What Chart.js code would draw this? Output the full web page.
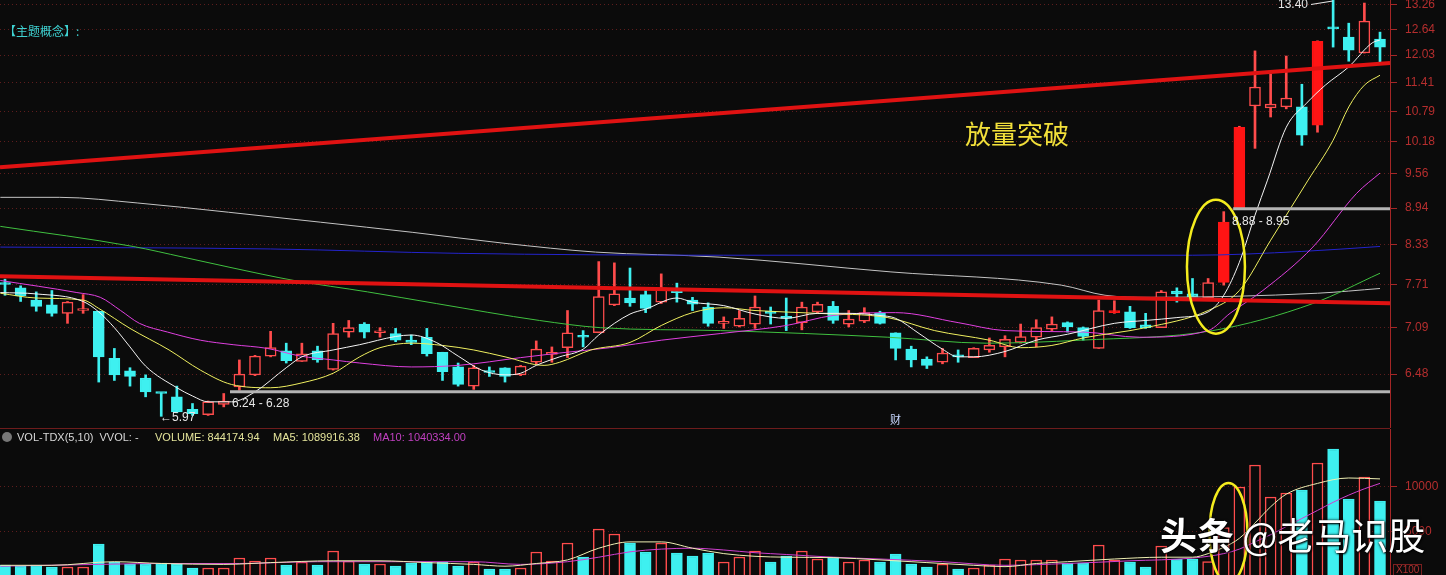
<!DOCTYPE html>
<html>
<head>
<meta charset="utf-8">
<script src="https://cdn.jsdelivr.net/npm/chart.js@4.4.0/dist/chart.umd.min.js"></script>
<style>
  html, body { margin: 0; padding: 0; background: #0b0b0b; overflow: hidden; }
  #wrap { position: relative; width: 1446px; height: 575px; overflow: hidden; background: #0b0b0b; }
  #price { position: absolute; left: 0; top: 0; }
  #vol { position: absolute; left: 0; top: 429px; }
  .t { position: absolute; white-space: nowrap; line-height: 1; font-family: "Liberation Sans", Arial, sans-serif; }
  .cjk { font-family: "Noto Sans CJK SC", sans-serif; }
  #divider { position: absolute; left: 0; top: 428px; width: 1390px; height: 1px; background: #6e1c1c; }
</style>
</head>
<body>
<div id="wrap">
  <canvas id="price" width="1446" height="428"></canvas>
  <canvas id="vol" width="1446" height="148"></canvas>
  <div id="divider"></div>

  <div class="t cjk" style="left:4px;top:25px;font-size:12px;color:#3fd2d2;">【主题概念】:</div>
  <div class="t cjk" style="left:965px;top:120px;font-size:26px;color:#f2e03a;">放量突破</div>
  <div class="t" style="left:232px;top:397px;font-size:12px;color:#e6e6e6;">6.24 - 6.28</div>
  <div class="t" style="left:1232px;top:215px;font-size:12px;color:#e6e6e6;">8.88 - 8.95</div>
  <div class="t" style="left:160px;top:411px;font-size:12px;color:#e6e6e6;">←5.97</div>
  <div class="t" style="left:1278px;top:-2px;font-size:12px;color:#e6e6e6;">13.40</div>
  <div style="position:absolute;left:1311px;top:4px;width:22px;height:1px;background:#e6e6e6;transform:rotate(-9deg);transform-origin:left center;"></div>
  <div class="t cjk" style="left:890px;top:414px;font-size:11px;color:#c8d8ff;">财</div>

  <div style="position:absolute;left:2px;top:432px;width:10px;height:10px;border-radius:50%;background:#777;"></div>
  <div class="t" style="left:17px;top:432px;font-size:11px;color:#d8d8d8;">VOL-TDX(5,10) &nbsp;VVOL: -</div>
  <div class="t" style="left:155px;top:432px;font-size:11px;color:#e4e49a;">VOLUME: 844174.94</div>
  <div class="t" style="left:273px;top:432px;font-size:11px;color:#e4e49a;">MA5: 1089916.38</div>
  <div class="t" style="left:373px;top:432px;font-size:11px;color:#c040c0;">MA10: 1040334.00</div>

  <div class="t" style="left:1393px;top:564px;font-size:10px;color:#b03030;border:1px solid #7a2020;padding:0 2px;">X100</div>
  <div class="t cjk" style="left:1160px;top:516px;font-size:37px;color:#ffffff;text-shadow:0 0 3px #000,1px 1px 2px #000;"><b>头条</b> @老马识股</div>
</div>

<script>
// candles (index 0 = leftmost)
const OPEN  = [7.73,7.66,7.48,7.41,7.29,7.33,7.32,6.68,6.52,6.43,
               6.25,6.20,6.05,5.99,6.11,6.32,6.47,6.71,6.78,6.64,
               6.78,6.54,7.03,7.14,7.02,7.01,6.92,6.96,6.76,6.57,
               6.33,6.52,6.56,6.47,6.63,6.73,6.82,6.98,7.02,7.41,
               7.51,7.56,7.45,7.61,7.48,7.38,7.15,7.11,7.14,7.31,
               7.24,7.16,7.31,7.39,7.14,7.18,7.29,7.02,6.80,6.67,
               6.63,6.72,6.69,6.79,6.83,6.89,6.96,7.07,7.16,7.09,
               6.81,7.30,7.31,7.13,7.09,7.61,7.57,7.51,7.74,8.95,
               10.90,10.86,10.88,10.88,10.50,12.70,12.46,12.08,12.41];
const HIGH  = [7.79,7.69,7.60,7.62,7.46,7.56,7.32,6.81,6.56,6.47,
               6.25,6.33,6.12,6.15,6.24,6.66,6.72,7.04,6.88,6.88,
               6.84,7.15,7.19,7.16,7.09,7.08,6.99,7.08,6.76,6.62,
               6.59,6.57,6.56,6.59,6.91,6.83,7.33,7.05,8.06,8.04,
               7.96,7.62,7.87,7.73,7.52,7.44,7.24,7.33,7.54,7.38,
               7.51,7.45,7.45,7.46,7.33,7.37,7.32,7.02,6.84,6.70,
               6.81,6.79,6.82,6.95,6.98,7.14,7.20,7.24,7.17,7.10,
               7.48,7.47,7.39,7.29,7.62,7.66,7.80,7.80,8.88,10.48,
               12.13,11.60,12.01,11.37,12.37,13.40,12.80,13.31,12.58];
const LOW   = [7.55,7.46,7.32,7.25,7.15,7.29,6.38,6.40,6.33,6.20,
               5.97,6.01,5.98,5.98,6.08,6.28,6.46,6.70,6.62,6.64,
               6.63,6.53,6.96,6.95,6.96,6.90,6.86,6.71,6.40,6.33,
               6.29,6.45,6.38,6.46,6.61,6.63,6.69,6.83,7.02,7.40,
               7.39,7.30,7.43,7.45,7.33,7.11,7.08,7.10,7.08,7.14,
               7.05,7.06,7.29,7.15,7.10,7.16,7.14,6.66,6.57,6.55,
               6.61,6.63,6.69,6.76,6.70,6.88,6.83,7.05,7.03,6.92,
               6.81,7.29,7.08,7.08,7.09,7.45,7.53,7.51,7.70,8.95,
               10.04,10.67,10.84,10.10,10.36,12.22,11.89,12.08,11.87];
const CLOSE = [7.71,7.54,7.39,7.29,7.45,7.35,6.70,6.47,6.45,6.26,
               6.24,6.02,6.00,6.14,6.15,6.48,6.71,6.82,6.65,6.74,
               6.66,7.01,7.09,7.03,7.04,6.92,6.89,6.74,6.51,6.35,
               6.56,6.50,6.45,6.58,6.80,6.76,7.02,6.96,7.53,7.57,
               7.44,7.36,7.66,7.59,7.42,7.15,7.17,7.22,7.38,7.29,
               7.22,7.38,7.42,7.19,7.21,7.30,7.15,6.81,6.66,6.59,
               6.75,6.70,6.81,6.85,6.93,6.97,7.09,7.14,7.10,6.97,
               7.33,7.32,7.09,7.09,7.60,7.57,7.53,7.74,8.70,10.46,
               11.31,10.94,11.07,10.30,12.36,12.66,12.15,12.85,12.22];
const SOLID = [71, 78, 79, 84];   // filled red candles

// volume (x100 shares)
const VOLUME = [1330,1220,1330,1110,1110,1110,3670,1670,1440,1440,
                1560,1440,1000,1000,1000,2110,1780,2110,1330,1670,
                1330,2890,1780,1440,1440,1220,1560,1670,1670,1220,
                1670,890,890,1000,2780,1780,3780,2220,5330,4780,
                3780,2780,3780,2670,2330,2670,1670,2220,2890,1670,
                2330,2890,2000,2220,1670,1890,1670,2560,1440,1110,
                1440,890,1000,1330,2000,1890,1890,1890,1560,1560,
                3560,1890,1670,1110,3440,2000,2000,1700,5500,10000,
                12440,8890,9330,9670,12670,14220,8670,11110,8442];

// moving averages, [index, value] read at points along each curve
const MA5 = [[-0.3,7.59],[2,7.57],[5,7.46],[6,7.31],[7,7.09],[8,6.83],[9,6.58],[11,6.31],[12,6.21],[13,6.14],
  [14.5,6.14],[16,6.26],[18,6.56],[19,6.70],[21,6.79],[22.7,6.86],[25,6.97],[26,6.99],[27.6,6.89],[29,6.71],
  [30.5,6.53],[32,6.47],[33,6.49],[34,6.59],[35.5,6.70],[37,6.80],[38,6.99],[40,7.28],[41,7.35],[43,7.51],
  [44,7.45],[46,7.40],[48,7.28],[50,7.22],[52,7.29],[54,7.29],[56,7.26],[57,7.22],[58.5,7.01],[60,6.80],
  [61,6.70],[62,6.70],[64,6.77],[66,6.92],[68,7.00],[71,7.15],[73,7.19],[75,7.23],[77,7.31],[78,7.55],
  [79,8.05],[80,8.82],[80.8,9.44],[82,10.46],[83.3,10.96],[84.5,11.35],[86,11.76],[87.5,12.32],[88,12.39]];
const MA10 = [[-0.3,7.58],[2,7.51],[5,7.48],[6,7.36],[8,7.08],[10.5,6.79],[12.5,6.53],[14.5,6.35],[17,6.31],[19,6.37],
  [21,6.49],[22.7,6.70],[24,6.82],[26,6.88],[28,6.85],[30,6.79],[32,6.70],[34.5,6.59],[35.5,6.63],[37.5,6.79],
  [40,6.89],[42,7.12],[44,7.30],[46,7.37],[48,7.33],[52,7.29],[56.5,7.23],[59.5,7.05],[63,6.92],[65,6.82],
  [67,6.85],[69,6.95],[73,7.09],[77,7.33],[79,7.62],[81,8.40],[83.4,9.44],[85,10.20],[86,10.88],[87,11.35],[88,11.57]];
const MA20 = [[-0.3,7.77],[4.6,7.59],[6.1,7.52],[7.4,7.33],[8.6,7.15],[10.4,7.03],[12.5,6.92],[14.6,6.86],[16.8,6.81],[18.9,6.71],
  [21,6.66],[22.7,6.62],[26,6.57],[29,6.59],[33,6.69],[35.5,6.75],[38.7,6.82],[42,6.92],[45.8,7.01],[50,7.12],
  [53,7.26],[57,7.30],[61,7.16],[64,7.05],[69,7.03],[72.6,6.96],[77,7.05],[78.4,7.29],[80.5,7.62],[83.7,8.29],
  [86.5,9.20],[88,9.57]];
const MA60 = [[-0.3,8.63],[8.2,8.30],[11.4,8.13],[14.4,7.97],[18.5,7.77],[23.2,7.60],[27.6,7.43],[34.2,7.19],[38.1,7.09],[45.8,7.05],
  [56.5,6.96],[62.8,6.88],[68.8,6.92],[77.3,7.05],[83.7,7.43],[88,7.88]];
const MA120 = [[-0.3,8.29],[17,8.26],[29,8.19],[46,8.16],[76,8.16],[83,8.22],[88,8.30]];
const MA250 = [[-0.3,9.13],[3.5,9.13],[8.5,9.03],[14.3,8.87],[20.2,8.70],[26.1,8.53],[32,8.35],[37.8,8.21],[45.7,8.13],[56.7,7.90],
  [67.6,7.70],[70.4,7.55],[73.3,7.52],[84,7.58],[88,7.65]];

// drawn lines
const UPPER_TREND = [[-0.32,9.68],[88.64,11.85]];
const LOWER_TREND = [[-0.32,7.835],[88.64,7.434]];
const GAP_LOW = [[14.4,6.26],[88.64,6.26]];
const GAP_HIGH = [[78.6,8.93],[88.64,8.93]];

const VOL_MA5 = [[-0.3,1300],[3,1300],[7,1700],[10,1500],[14,1400],[17,1600],[21,1800],[24,1800],[27,1600],[30,1400],
  [32,1200],[34,1500],[36,1900],[38,3200],[40,3900],[42,3900],[44,3200],[46,2600],[48,2300],[50,2200],
  [53,2150],[56,1900],[59,1600],[62,1300],[64,1150],[66,1500],[68,1700],[71,2000],[74,2200],[76,2200],
  [77,2600],[78,3300],[79,4300],[80,6000],[81,7800],[82,9200],[84,10400],[86,11000],[88,10900]];
const VOL_MA10 = [[-0.3,1200],[6,1400],[10,1500],[15,1500],[20,1700],[25,1700],[30,1700],[33,1400],[36,1700],[38,2200],
  [40,2800],[42,3100],[44,3200],[46,3000],[48,2700],[50,2500],[53,2200],[56,2000],[60,1700],[64,1300],
  [68,1500],[72,1800],[76,2100],[78,2600],[79,3100],[80,3900],[81,4700],[82,5600],[83,6500],[84,7400],
  [85,8300],[86,9100],[87,9800],[88,10400]];

const PRICE_TICKS = [6.48, 7.09, 7.71, 8.33, 8.94, 9.56, 10.18, 10.79, 11.41, 12.03, 12.64, 13.26];
const VOL_TICKS = [5000, 10000];

const BG = '#0b0b0b', RED = '#ff4c4c', SOLID_RED = '#ff1414', CYAN = '#3ef0f0';
const AXIS_RED = '#a42626', GRID = 'rgba(150,42,42,0.6)';

const idx = OPEN.map((_, i) => i);
const up = i => CLOSE[i] >= OPEN[i];
const bodyFill = idx.map(i => up(i) ? (SOLID.includes(i) ? SOLID_RED : BG) : CYAN);
const bodyLine = idx.map(i => up(i) ? (SOLID.includes(i) ? SOLID_RED : RED) : CYAN);
const wickColor = idx.map(i => up(i) ? RED : CYAN);

const pts = arr => arr.map(([x, y]) => ({ x, y }));

function curve(points, color, order, width) {
  return {
    type: 'line', data: pts(points), borderColor: color, borderWidth: width || 1,
    pointRadius: 0, cubicInterpolationMode: 'monotone', order
  };
}
function straight(points, color, width) {
  return { type: 'line', data: pts(points), borderColor: color, borderWidth: width, pointRadius: 0, tension: 0, order: 0 };
}

// ellipses drawn around the breakout, centred on data values
const ellipsePlugin = {
  id: 'ellipses',
  afterDatasetsDraw(chart, args, opts) {
    const { ctx, scales } = chart;
    ctx.save();
    ctx.strokeStyle = '#f4ec1e';
    ctx.lineWidth = 2.5;
    for (const e of opts.items || []) {
      ctx.beginPath();
      ctx.ellipse(scales.x.getPixelForValue(e.x), scales.y.getPixelForValue(e.y), e.rx, e.ry, 0, 0, Math.PI * 2);
      ctx.stroke();
    }
    ctx.restore();
  }
};

function rightAxis(extra) {
  return Object.assign({
    position: 'right',
    afterFit(scale) { scale.width = 56; scale.paddingTop = 0; scale.paddingBottom = 0; },
    grid: { color: GRID, drawTicks: true, tickLength: 7, tickColor: AXIS_RED, tickBorderDash: [] },
    border: { display: true, color: AXIS_RED, width: 1, dash: [1, 3] }
  }, extra);
}

const xAxis = { type: 'linear', min: -0.32, max: 88.64, offset: false, bounds: 'data', display: false };

new Chart(document.getElementById('price'), {
  type: 'bar',
  data: {
    datasets: [
      straight(UPPER_TREND, '#e01212', 4),
      straight(LOWER_TREND, '#e01212', 4),
      straight(GAP_LOW, '#b4b4b4', 3),
      straight(GAP_HIGH, '#b4b4b4', 3),
      curve(MA5, '#f4f4f4', 1),
      curve(MA10, '#f0f060', 1),
      curve(MA20, '#e040e0', 1),
      curve(MA60, '#40c040', 1),
      curve(MA120, '#2424cc', 1),
      curve(MA250, '#c4c4c4', 1),
      {
        label: 'body', data: idx.map(i => ({ x: i, y: [OPEN[i], CLOSE[i]] })),
        backgroundColor: bodyFill, borderColor: bodyLine, borderWidth: 1.5, borderSkipped: false,
        barThickness: 11, minBarLength: 2, grouped: false, order: 2
      },
      {
        label: 'wick', data: idx.map(i => ({ x: i, y: [LOW[i], HIGH[i]] })),
        backgroundColor: wickColor, borderWidth: 0, barThickness: 2, grouped: false, order: 3
      }
    ]
  },
  options: {
    responsive: false, animation: false, events: [],
    layout: { padding: 0 },
    plugins: {
      legend: { display: false }, tooltip: { enabled: false },
      ellipses: { items: [{ x: 77.5, y: 7.98, rx: 29, ry: 67 }] }
    },
    scales: {
      x: xAxis,
      y: rightAxis({
        type: 'logarithmic', min: 5.836, max: 13.389, bounds: 'data',
        afterBuildTicks(scale) { scale.ticks = PRICE_TICKS.map(v => ({ value: v })); },
        ticks: { color: '#b52e2e', font: { family: 'Liberation Sans', size: 12 }, padding: 8, autoSkip: false,
                 callback: v => Number(v).toFixed(2) }
      })
    }
  },
  plugins: [ellipsePlugin]
});

new Chart(document.getElementById('vol'), {
  type: 'bar',
  data: {
    datasets: [
      curve(VOL_MA5, '#f0f0b4', 0),
      curve(VOL_MA10, '#d040d0', 0),
      {
        label: 'volume', data: idx.map(i => ({ x: i, y: VOLUME[i] })),
        backgroundColor: idx.map(i => up(i) ? BG : CYAN),
        borderColor: idx.map(i => up(i) ? RED : CYAN),
        borderWidth: 1.5, borderSkipped: false, barThickness: 11, grouped: false, order: 1
      }
    ]
  },
  options: {
    responsive: false, animation: false, events: [],
    layout: { padding: 0 },
    plugins: {
      legend: { display: false }, tooltip: { enabled: false },
      ellipses: { items: [{ x: 78.3, y: 4900, rx: 19, ry: 50 }] }
    },
    scales: {
      x: xAxis,
      y: rightAxis({
        type: 'linear', min: 0, max: 16444, bounds: 'data',
        afterBuildTicks(scale) { scale.ticks = VOL_TICKS.map(v => ({ value: v })); },
        ticks: { color: '#b52e2e', font: { family: 'Liberation Sans', size: 12 }, padding: 8, autoSkip: false,
                 callback: v => String(v) }
      })
    }
  },
  plugins: [ellipsePlugin]
});
</script>
</body>
</html>
